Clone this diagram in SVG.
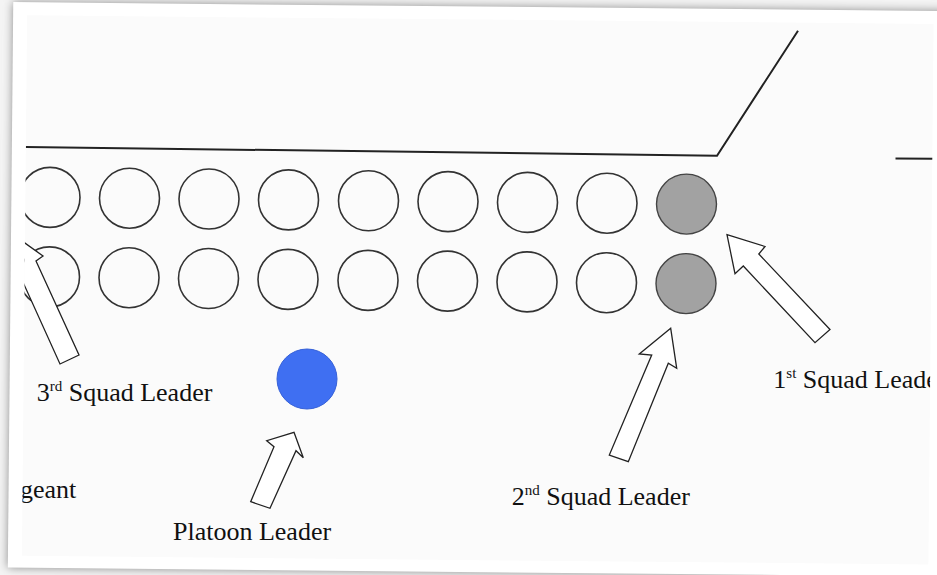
<svg xmlns="http://www.w3.org/2000/svg" width="937" height="575" viewBox="0 0 937 575">
<defs>
<filter id="sh" x="-10%" y="-10%" width="120%" height="120%"><feGaussianBlur stdDeviation="5"/></filter>
<clipPath id="pic"><rect x="24.5" y="19.5" width="906.5" height="540.5" transform="rotate(0.55 470 290)"/></clipPath>
<style>
.c{fill:none;stroke:#333;stroke-width:1.6}
.g{fill:#a2a2a2;stroke:#444;stroke-width:1.4}
.b{fill:#3f6ff2;stroke:#3560d8;stroke-width:1}
.ln{fill:none;stroke:#222;stroke-width:2}
.ar{fill:#fff;stroke:#222;stroke-width:1.3;stroke-linejoin:miter}
.t{font-family:"Liberation Serif","Times New Roman",serif;font-size:26px;fill:#111}
.sup{font-size:15px}
</style>
</defs>
<rect width="937" height="575" fill="#f4f4f4"/>
<rect x="10.5" y="6.5" width="960" height="565.5" transform="rotate(0.55 470 290)" fill="#8a8a8a" filter="url(#sh)"/>
<rect x="10.5" y="6.5" width="960" height="565.5" transform="rotate(0.55 470 290)" fill="#ffffff"/>
<rect x="24.5" y="19.5" width="906.5" height="540.5" transform="rotate(0.55 470 290)" fill="#fbfbfb"/>
<g clip-path="url(#pic)">
<g id="lines">
<polyline class="ln" points="25.7,147 717,155.7 798,30.7"/>
<line class="ln" x1="895.5" y1="158.5" x2="940" y2="158.8"/>
</g>
<g id="row1">
<g id="n1-1"><circle class="c" cx="50" cy="197.4" r="30"/></g>
<g id="n1-2"><circle class="c" cx="129.5" cy="198.2" r="30"/></g>
<g id="n1-3"><circle class="c" cx="209" cy="199" r="30"/></g>
<g id="n1-4"><circle class="c" cx="288.5" cy="199.9" r="30"/></g>
<g id="n1-5"><circle class="c" cx="368.5" cy="200.8" r="30"/></g>
<g id="n1-6"><circle class="c" cx="448" cy="201.6" r="30"/></g>
<g id="n1-7"><circle class="c" cx="527.5" cy="202.4" r="30"/></g>
<g id="n1-8"><circle class="c" cx="607" cy="203.2" r="30"/></g>
<g id="n1-9"><circle class="g" cx="686.5" cy="204.1" r="30"/></g>
</g>
<g id="row2">
<g id="n2-1"><circle class="c" cx="49.5" cy="276.9" r="30"/></g>
<g id="n2-2"><circle class="c" cx="129" cy="277.7" r="30"/></g>
<g id="n2-3"><circle class="c" cx="208.5" cy="278.5" r="30"/></g>
<g id="n2-4"><circle class="c" cx="288" cy="279.4" r="30"/></g>
<g id="n2-5"><circle class="c" cx="368" cy="280.4" r="30"/></g>
<g id="n2-6"><circle class="c" cx="447.5" cy="281.1" r="30"/></g>
<g id="n2-7"><circle class="c" cx="527" cy="281.9" r="30"/></g>
<g id="n2-8"><circle class="c" cx="606.5" cy="282.7" r="30"/></g>
<g id="n2-9"><circle class="g" cx="686" cy="283.6" r="30"/></g>
</g>
<g id="platoon-leader"><circle class="b" cx="307" cy="379" r="30"/></g>
<g id="arrows">
<polygon class="ar" points="13.8,235 43,256 36,261 79,355 60,364 17.4,269.8 9.3,271.3"/>
<polygon class="ar" points="294,432.3 303.3,457.7 296,450.7 270,508.3 250.7,501.7 274,446.7 266.7,440.7"/>
<polygon class="ar" points="670.7,328.3 676.7,368.3 668.3,363.3 628.3,461.7 609.3,455 651.7,355 639.3,354"/>
<polygon class="ar" points="727,234.7 765,246.5 758.8,254 830,329.5 815,342.7 743.3,266 735,273.7"/>
</g>
<g id="labels">
<text class="t" x="36.7" y="401">3<tspan class="sup" dy="-10">rd</tspan><tspan dy="10"> Squad Leader</tspan></text>
<text class="t" x="20" y="498.3">geant</text>
<text class="t" x="173" y="540">Platoon Leader</text>
<text class="t" x="511.7" y="505">2<tspan class="sup" dy="-10">nd</tspan><tspan dy="10"> Squad Leader</tspan></text>
<text class="t" x="773.3" y="388.3">1<tspan class="sup" dy="-10">st</tspan><tspan dy="10"> Squad Leade</tspan></text>
</g>
</g>
</svg>
